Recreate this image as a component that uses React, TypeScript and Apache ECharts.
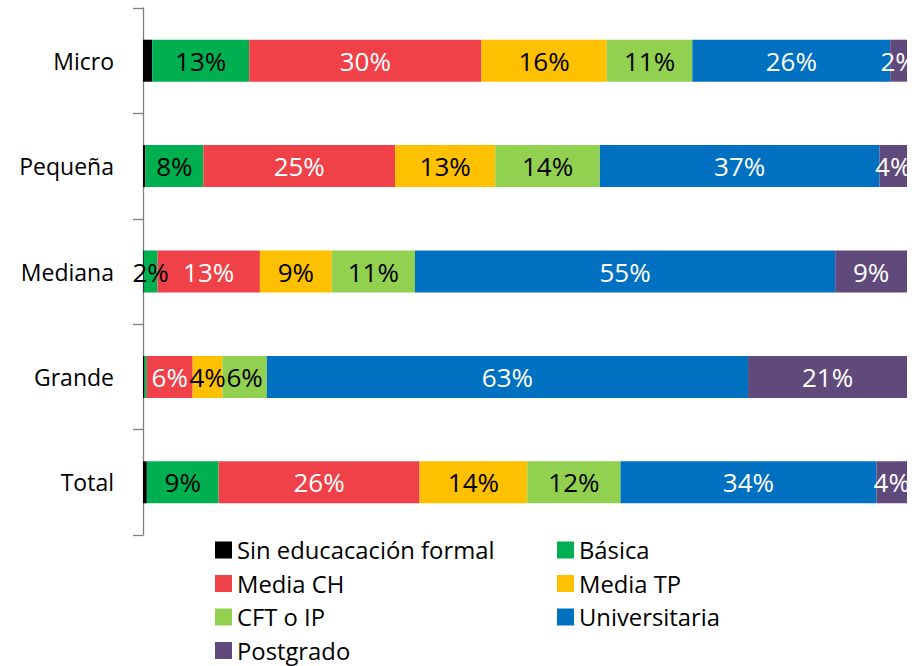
import React, { useEffect, useRef } from "react";
import * as echarts from "echarts";

const categories = ["Micro", "Pequeña", "Mediana", "Grande", "Total"];
const sinEducacion = [1.2, 0.3, 0.1, 0.2, 0.5];
const basica = [12.7, 7.6, 1.8, 0.3, 9.4];
const mediaCH = [30.4, 25.1, 13.4, 6.0, 26.3];
const mediaTP = [16.4, 13.1, 9.4, 3.9, 14.1];
const cftIP = [11.2, 13.7, 10.9, 5.8, 12.2];
const universitaria = [25.9, 36.6, 55.0, 63.0, 33.5];
const postgrado = [2.2, 3.6, 9.4, 20.8, 4.0];

const seriesDefs = [
  { name: "Sin educacación formal", data: sinEducacion, color: "#000000", text: "#000000", label: false },
  { name: "Básica", data: basica, color: "#00B050", text: "#000000", label: true },
  { name: "Media CH", data: mediaCH, color: "#EF4147", text: "#ffffff", label: true },
  { name: "Media TP", data: mediaTP, color: "#FFC000", text: "#000000", label: true },
  { name: "CFT o IP", data: cftIP, color: "#92D050", text: "#000000", label: true },
  { name: "Universitaria", data: universitaria, color: "#0070C0", text: "#ffffff", label: true },
  { name: "Postgrado", data: postgrado, color: "#604A7B", text: "#ffffff", label: true },
];

const FONT = "'Open Sans', 'Noto Sans', sans-serif";

export default function App() {
  const ref = useRef<HTMLDivElement>(null);
  useEffect(() => {
    if (!ref.current) return;
    const chart = echarts.init(ref.current, undefined, { renderer: "svg" });
    const legendBase = {
      orient: "vertical" as const,
      icon: "rect",
      itemWidth: 17,
      itemHeight: 17,
      itemGap: 9.5,
      padding: 0,
      selectedMode: false,
      textStyle: { fontFamily: FONT, fontSize: 23.8, color: "#000", lineHeight: 24 },
    };
    chart.setOption({
      animation: false,
      grid: { left: 143, right: 0, top: 8, height: 527 },
      xAxis: {
        type: "value",
        min: 0,
        max: 100,
        show: false,
      },
      yAxis: {
        type: "category",
        data: categories,
        inverse: true,
        axisLine: { show: true, lineStyle: { color: "#808080", width: 1.3 } },
        axisTick: { show: true, length: 10, lineStyle: { color: "#808080", width: 1.3 } },
        axisLabel: { margin: 29, fontFamily: FONT, fontSize: 23, color: "#000", padding: [0, 0, 4, 0] },
      },
      legend: [
        {
          ...legendBase,
          left: 215,
          top: 538,
          data: ["Sin educacación formal", "Media CH", "CFT o IP", "Postgrado"],
        },
        {
          ...legendBase,
          left: 557,
          top: 538,
          data: ["Básica", "Media TP", "Universitaria"],
        },
      ],
      series: seriesDefs.map((s) => ({
        name: s.name,
        type: "bar",
        stack: "total",
        barWidth: 42,
        data: s.data,
        itemStyle: { color: s.color },
        label: {
          show: s.label,
          position: "inside",
          fontFamily: FONT,
          fontSize: 26,
          color: s.text,
          formatter: (p: any) => (p.value >= 1 ? `${Math.round(p.value)}%` : ""),
        },
        labelLayout: { hideOverlap: false },
      })),
    });
    return () => chart.dispose();
  }, []);
  return (
    <div
      ref={ref}
      style={{ position: "absolute", left: 0, top: 0, width: 907, height: 666 }}
    />
  );
}
